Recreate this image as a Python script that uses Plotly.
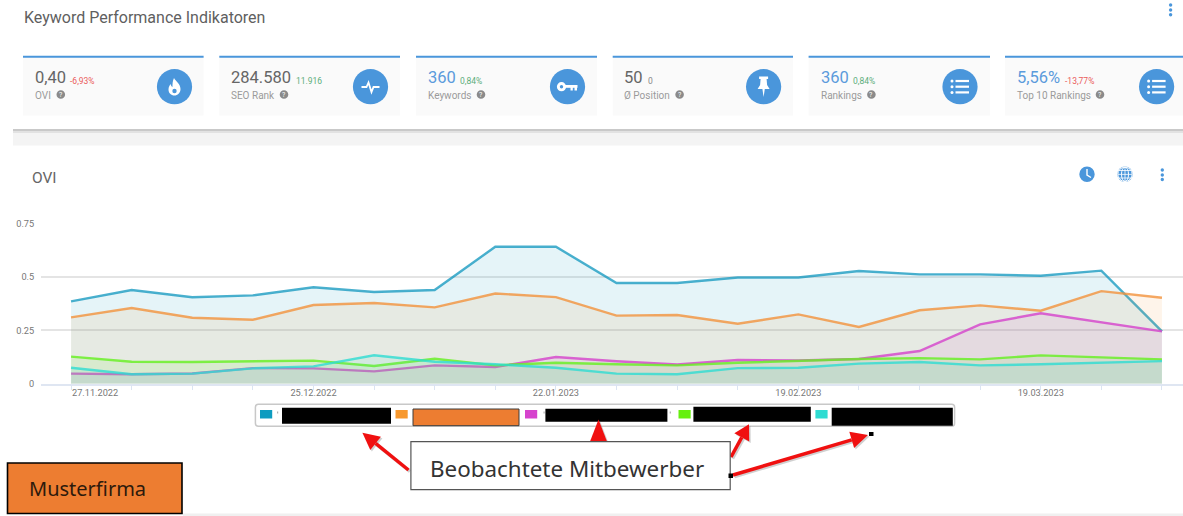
import pandas as pd
import plotly.graph_objects as go

W, H = 1183, 516

# ---------- data ----------
dates = ["2022-11-27", "2022-12-04", "2022-12-11", "2022-12-18", "2022-12-25", "2023-01-01", "2023-01-08",
         "2023-01-15", "2023-01-22", "2023-01-29", "2023-02-05", "2023-02-12", "2023-02-19", "2023-02-26",
         "2023-03-05", "2023-03-12", "2023-03-19", "2023-03-26", "2023-04-02"]
tick_labels = ["", "", "", "", "25.12.2022", "", "", "", "22.01.2023", "", "", "", "19.02.2023", "", "", "",
               "19.03.2023", "", ""]
first_tick_label = "27.11.2022"
y_ticks = [0, 0.25, 0.5, 0.75]
y_tick_labels = ["0", "0.25", "0.5", "0.75"]

blue = [.386, .439, .405, .414, .452, .430, .439, .642, .642, .472, .472, .498, .498, .528, .5125, .5125, .506, .530, .245]
orange = [.311, .355, .309, .300, .369, .378, .358, .423, .406, .319, .322, .281, .325, .266, .344, .367, .342, .434, .403]
magenta = [.047, .044, .048, .073, .072, .058, .086, .078, .125, .105, .090, .111, .109, .116, .153, .278, .330, .286, .245]
green = [.127, .103, .102, .105, .108, .083, .117, .086, .098, .091, .086, .098, .108, .116, .120, .114, .133, .123, .114]
cyan = [.075, .044, .047, .072, .081, .133, .103, .091, .075, .047, .044, .073, .075, .094, .102, .086, .091, .098, .106]

card_values = ["0,40", "284.580", "360", "50", "360", "5,56%"]
card_deltas = ["-6,93%", "11.916", "0,84%", "0", "0,84%", "-13,77%"]
card_labels = ["OVI", "SEO Rank", "Keywords", "Ø Position", "Rankings", "Top 10 Rankings"]

# ---------- styles ----------
FONT = "Roboto"
BLUE = "#4a96db"
series = [
    (blue, "rgba(14,150,190,0.75)", "rgba(14,156,192,0.11)"),
    (orange, "rgba(243,146,60,0.8)", "rgba(245,146,50,0.10)"),
    (magenta, "rgba(214,75,205,0.85)", "rgba(214,75,205,0.10)"),
    (green, "rgba(100,240,30,0.8)", "rgba(100,240,30,0.10)"),
    (cyan, "rgba(45,220,210,0.8)", "rgba(45,220,210,0.10)"),
]


def px(x):
    return x / W


def py(y):
    return 1 - y / H


shapes, notes = [], []


def rect(x0, y0, x1, y1, fill, line=None, lw=0):
    shapes.append(dict(type="rect", xref="paper", yref="paper", x0=px(x0), x1=px(x1), y0=py(y0), y1=py(y1),
                       fillcolor=fill, line=dict(color=line or "rgba(0,0,0,0)", width=lw), layer="above"))


def circle(cx, cy, r, fill):
    shapes.append(dict(type="circle", xref="paper", yref="paper", x0=px(cx - r), x1=px(cx + r), y0=py(cy - r),
                       y1=py(cy + r), fillcolor=fill, line=dict(width=0), layer="above"))


def path(cmds, fill=None, line=None, lw=0):
    """cmds: list of (letter, x, y, ...) in pixels"""
    out = []
    for c in cmds:
        if c[0] == "Z":
            out.append("Z")
            continue
        nums = c[1:]
        pts = [f"{px(nums[i])},{py(nums[i + 1])}" for i in range(0, len(nums), 2)]
        out.append(c[0] + " ".join(pts))
    shapes.append(dict(type="path", xref="paper", yref="paper", path=" ".join(out),
                       fillcolor=fill or "rgba(0,0,0,0)", line=dict(color=line or "rgba(0,0,0,0)", width=lw),
                       layer="above"))


def text(x, y, s, size, color, anchor="left", family=FONT, xref="paper"):
    notes.append(dict(xref=xref, yref="paper", x=x if xref != "paper" else px(x), y=py(y), text=s, showarrow=False,
                      xanchor=anchor, yanchor="middle", borderpad=0,
                      font=dict(family=family, size=size, color=color)))


# ---------- header and cards ----------
text(23, 17.5, "Keyword Performance Indikatoren", 16, "#5f5f5f")
for dy in (5, 10, 14.7):
    circle(1170.6, dy, 1.7, BLUE)

cards = [(23, 203.6), (219.3, 400), (416, 597), (612.7, 793), (808.6, 990), (1005, 1183)]
value_x = [34, 230, 427, 623.4, 819.7, 1016.4]
delta_x = [69.4, 294.8, 459, 646.5, 852, 1063.7]
help_x = [60.8, 284, 481, 679.6, 871.4, 1100]
icon_x = [174.5, 370.5, 567.5, 763.6, 960, 1156.6]
value_col = ["#666666", "#666666", "#5b9bdc", "#666666", "#5b9bdc", "#5b9bdc"]
delta_col = ["#ea5a5a", "#5cae7c", "#5cae7c", "#888888", "#5cae7c", "#ea5a5a"]

for i, (x0, x1) in enumerate(cards):
    rect(x0, 56, x1, 115.5, "#fafafa")
    rect(x0, 55.8, x1, 57.8, BLUE)
    text(value_x[i], 77.5, card_values[i], 16.5, value_col[i])
    text(delta_x[i], 80.5, card_deltas[i], 8.5, delta_col[i])
    text(value_x[i], 95, card_labels[i], 10, "#9a9a9a")
    circle(help_x[i], 94.5, 4.3, "#8a8a8a")
    text(help_x[i], 94.5, "?", 7, "#ffffff", anchor="center")
    circle(icon_x[i], 86.7, 17.6, BLUE)

W_ = "#ffffff"
# flame
cx = icon_x[0]
path([("M", cx - .5, 78), ("C", cx + 1, 81, cx + 6, 84, cx + 6, 89), ("C", cx + 6, 93, cx + 3, 95.5, cx, 95.5),
      ("C", cx - 3.5, 95.5, cx - 6, 93, cx - 6, 89.5), ("C", cx - 6, 87, cx - 5, 85.5, cx - 4, 84),
      ("C", cx - 3.5, 86, cx - 2.5, 87, cx - 2, 87), ("C", cx - 2, 84, cx - 2, 81, cx - .5, 78), ("Z",)], fill=W_)
circle(cx, 91, 2.2, BLUE)
# pulse
cx = icon_x[1]
path([("M", cx - 9, 87), ("L", cx - 4, 87), ("L", cx - 2, 82.5), ("L", cx + 1, 92), ("L", cx + 3, 87), ("L", cx + 9, 87)],
     line=W_, lw=1.8)
# key
cx = icon_x[2]
circle(cx - 6, 86.7, 4.6, W_)
circle(cx - 6, 86.7, 1.7, BLUE)
rect(cx - 3, 85, cx + 10, 87.8, W_)
rect(cx + 3, 87, cx + 5.3, 90.5, W_)
rect(cx + 7, 87, cx + 9.5, 90.5, W_)
# pin
cx = icon_x[3]
path([("M", cx - 4.5, 76.5), ("L", cx + 4.5, 76.5), ("L", cx + 4.5, 79), ("L", cx + 3, 79), ("L", cx + 3.5, 85),
      ("L", cx + 6, 89), ("L", cx + 1.2, 89), ("L", cx, 97), ("L", cx - 1.2, 89), ("L", cx - 6, 89),
      ("L", cx - 3.5, 85), ("L", cx - 3, 79), ("L", cx - 4.5, 79), ("Z",)], fill=W_)
# lists
for cx in (icon_x[4], icon_x[5]):
    for ly in (81, 86.7, 92.4):
        circle(cx - 8, ly, 1.5, W_)
        rect(cx - 4.5, ly - 1.1, cx + 9, ly + 1.1, W_)

# ---------- separator band ----------
rect(13, 129, W, 145.5, "#f4f4f4")
rect(13, 129, W, 131, "#c9c9c9")
rect(13, 131, W, 133, "#e2e2e2")
rect(183, 513.5, W, H, "#f0f0f0")

# ---------- chart title and tools ----------
text(31, 178, "OVI", 15.5, "#666666")
circle(1087, 174.3, 7.7, BLUE)
path([("M", 1087, 169), ("L", 1087, 175), ("L", 1091, 177.5)], line=W_, lw=1.4)
circle(1125, 174.3, 7.7, BLUE)
for r_x in (7.2, 3.5):
    shapes.append(dict(type="circle", xref="paper", yref="paper", x0=px(1125 - r_x), x1=px(1125 + r_x),
                       y0=py(174.3 - 7.2), y1=py(174.3 + 7.2), line=dict(color=W_, width=1), layer="above",
                       fillcolor="rgba(0,0,0,0)"))
for gy in (170.5, 174.3, 178):
    rect(1118, gy - .4, 1132, gy + .4, W_)
rect(1124.6, 167, 1125.4, 181.6, W_)
for dy in (170, 175, 179.5):
    circle(1162.3, dy, 1.7, BLUE)

# ---------- legend ----------
lx0, lx1, ly0, ly1, rr = 255.4, 954.6, 404.3, 426.3, 3
path([("M", lx0 + rr, ly0), ("L", lx1 - rr, ly0), ("Q", lx1, ly0, lx1, ly0 + rr), ("L", lx1, ly1 - rr),
      ("Q", lx1, ly1, lx1 - rr, ly1), ("L", lx0 + rr, ly1), ("Q", lx0, ly1, lx0, ly1 - rr), ("L", lx0, ly0 + rr),
      ("Q", lx0, ly0, lx0 + rr, ly0), ("Z",)], fill="#ffffff", line="#c8c8c8", lw=1.5)
for sx, col in zip((260, 395.5, 525, 678.5, 815.4), ("#0e9cc0", "#f7982e", "#d643cd", "#66f00f", "#2fdcd2")):
    rect(sx, 410, sx + 12.2, 418.5, col)
for mx in (277, 543.5, 669.7):
    rect(mx, 411.5, mx + 1.2, 413.5, "#b0b0b0")
rect(282, 407.7, 391, 423.7, "#000000")
rect(413, 409, 519, 425.7, "#ed7d31", "#3d3d3d", 1)
rect(545.4, 408.7, 667.4, 421.7, "#000000")
rect(693.4, 406.7, 810.8, 421.7, "#000000")
rect(831.7, 407.7, 952.8, 425.7, "#000000")


# ---------- callout ----------
def arrow(x0, y0, x1, y1, hl=17, hw=8.5):
    dx, dy = x1 - x0, y1 - y0
    n = (dx * dx + dy * dy) ** .5
    ux, uy = dx / n, dy / n
    bx, by = x1 - ux * hl, y1 - uy * hl
    for off, col in ((1.5, "rgba(120,120,120,0.35)"), (0, "#f01010")):
        path([("M", x0 + off, y0 + off), ("L", bx + off, by + off)], line=col, lw=3.5)
        path([("M", x1 + off, y1 + off), ("L", bx - uy * hw + off, by + ux * hw + off),
              ("L", bx + uy * hw + off, by - ux * hw + off), ("Z",)], fill=col)


arrow(408.5, 470, 362.4, 432.7)
arrow(598.5, 443, 598.5, 419.5, hl=22)
arrow(731, 457, 749, 424.3, hl=15)
arrow(733, 475, 868, 435)
rect(410.9, 441.7, 730.2, 489.7, "#ffffff", "#555555", 1.2)
text(429, 468.5, "Beobachtete Mitbewerber", 22.4, "#333333", family="Noto Sans")
rect(728.5, 473.5, 733, 478, "#000000")
rect(869, 432, 873.5, 436, "#000000")

rect(7.5, 463, 182, 513.5, "#ed7d31", "#000000", 1.6)
text(27.5, 488.5, "Musterfirma", 20, "#2d1a0c", family="Noto Sans")

# first date label is left aligned with its tick
text(dates[0], 392.5, first_tick_label, 9.2, "#777777", xref="x")

# ---------- figure ----------
fig = go.Figure()
for values, line_col, fill_col in series:
    fig.add_trace(go.Scatter(x=dates, y=values, mode="lines", fill="tozeroy", fillcolor=fill_col,
                             line=dict(color=line_col, width=2.4), showlegend=False, hoverinfo="skip"))

d0 = pd.Timestamp(dates[0])
d1 = pd.Timestamp(dates[-1])
fig.update_layout(
    width=W, height=H, autosize=False, margin=dict(l=0, r=0, t=0, b=0, pad=0, autoexpand=False),
    paper_bgcolor="#ffffff", plot_bgcolor="#ffffff", showlegend=False,
    font=dict(family=FONT, color="#777777", size=9),
    xaxis=dict(type="date", domain=[41 / W, 1],
               range=[(d0 - pd.Timedelta(days=3.47)).isoformat(), (d1 + pd.Timedelta(days=2.43)).isoformat()],
               tickmode="array", tickvals=dates, ticktext=tick_labels, tickangle=0, ticks="outside", ticklen=5,
               tickcolor="#dbe4f2", tickwidth=1, showgrid=False, showline=True, linecolor="#dfe6f2", linewidth=1.5,
               zeroline=False, automargin=False, ticklabelstandoff=-5,
               tickfont=dict(size=9.2, color="#777777", family=FONT)),
    yaxis=dict(domain=[1 - 383.7 / H, 1 - 223.7 / H], range=[0, 0.75], tickmode="array", tickvals=y_ticks,
               ticktext=y_tick_labels, ticks="outside", ticklen=4, tickcolor="rgba(0,0,0,0)", showgrid=True,
               gridcolor="#e4e4e4", gridwidth=2, zeroline=False, showline=False, automargin=False,
               tickfont=dict(size=9.2, color="#777777", family=FONT)),
    shapes=shapes, annotations=notes,
)

fig.write_html("out.html", config=dict(displayModeBar=False),
               post_script="document.body.style.margin='0';document.body.style.overflow='hidden';")
